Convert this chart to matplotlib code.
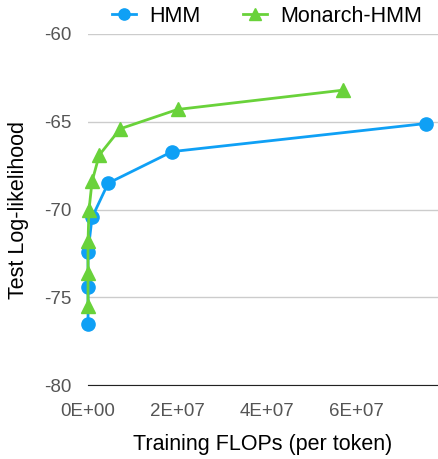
import numpy as np
import matplotlib
matplotlib.use("Agg")
import matplotlib.pyplot as plt

plt.rcParams["font.family"] = ["Liberation Sans", "DejaVu Sans"]
plt.rcParams["axes.unicode_minus"] = False

hmm_flops = [0.0, 0.0, 0.0, 0.9e6, 4.5e6, 1.88e7, 7.55e7]
hmm_ll = [-76.5, -74.4, -72.4, -70.45, -68.5, -66.7, -65.1]

monarch_flops = [0.0, 0.0, 0.0, 0.2e6, 0.9e6, 2.5e6, 7.2e6, 2.0e7, 5.7e7]
monarch_ll = [-75.5, -73.6, -71.8, -70.05, -68.4, -66.9, -65.4, -64.3, -63.2]

blue = "#0fa0f5"
green = "#69d23a"

fig = plt.figure(figsize=(4.38, 4.59), dpi=100)
ax = fig.add_axes([0.201, 0.161, 0.799, 0.765])

ax.plot(hmm_flops, hmm_ll, "-o", color=blue, lw=2, ms=9.5, label="HMM", zorder=3)
ax.plot(monarch_flops, monarch_ll, "-^", color=green, lw=2, ms=9.5,
        label="Monarch-HMM", zorder=3)

ax.set_xlim(0, 7.82e7)
ax.set_ylim(-80, -60)
ax.set_yticks([-80, -75, -70, -65, -60])
ax.set_xticks([0, 2e7, 4e7, 6e7])
ax.set_xticklabels(["0E+00", "2E+07", "4E+07", "6E+07"])
ax.yaxis.grid(True, color="#cccccc", lw=1)
ax.set_axisbelow(True)
for s in ["top", "right", "left"]:
    ax.spines[s].set_visible(False)
ax.spines["bottom"].set_color("#222222")
ax.tick_params(length=0, labelsize=13.5, colors="#555555")
ax.tick_params(axis="x", pad=13)
ax.tick_params(axis="y", pad=12)
for l in ax.lines:
    l.set_clip_on(False)

ax.set_xlabel("Training FLOPs (per token)", fontsize=15.5, labelpad=10)
ax.set_ylabel("Test Log-likelihood", fontsize=15.5, labelpad=11)

fig.legend(loc="upper center", bbox_to_anchor=(0.61, 1.03), ncol=2,
           frameon=False, fontsize=15.5, handlelength=1.1, columnspacing=2.0,
           handletextpad=0.6, markerscale=0.85)

fig.savefig("out.png", dpi=100)
